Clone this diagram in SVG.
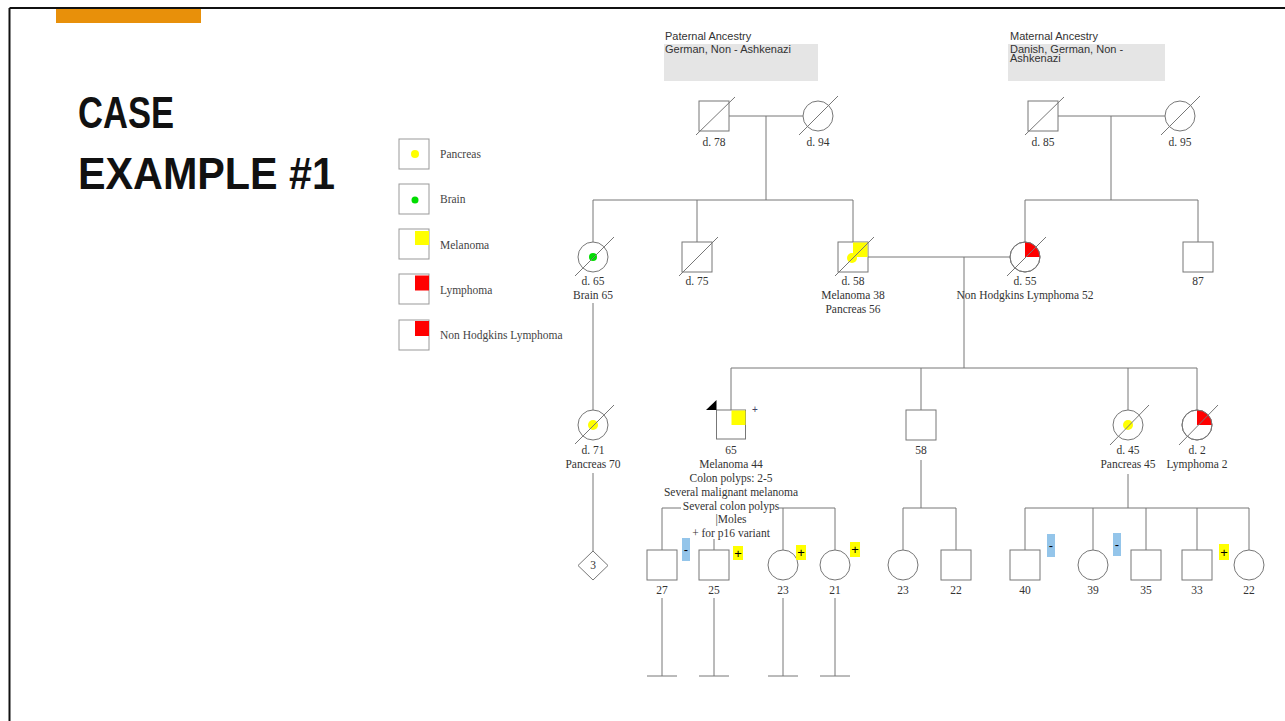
<svg xmlns="http://www.w3.org/2000/svg" width="1285" height="721" viewBox="0 0 1285 721">
<style>
.ln{stroke:#777;stroke-width:1;fill:none}
.nd{fill:#fff;stroke:#777;stroke-width:1}
.lgb{fill:#fff;stroke:#999;stroke-width:1}
.lb{font-family:"Liberation Serif",serif;font-size:11.5px;fill:#333;text-anchor:middle}
.lg{font-family:"Liberation Serif",serif;font-size:11.5px;fill:#444}
.anc{font-family:"Liberation Sans",sans-serif;font-size:11px;fill:#333}
.ttl{font-family:"Liberation Sans",sans-serif;font-weight:bold;font-size:45px;fill:#111}
.yl{fill:#ffff00}
.rd{fill:#ff0000}
.gn{fill:#00dd00}
.bm{fill:#94c5ea}
.ym{fill:#ffff00}
.mk{font-family:"Liberation Sans",sans-serif;font-size:13px;fill:#000;text-anchor:middle}
</style>
<rect x="0" y="0" width="1285" height="721" fill="#fff"/>
<g id="frame">
<line x1="9.5" y1="8" x2="1285" y2="8" stroke="#111" stroke-width="2"/>
<line x1="9.5" y1="8" x2="9.5" y2="721" stroke="#111" stroke-width="2"/>
<rect x="56" y="9" width="145" height="14" fill="#e8900a"/>
</g>
<g id="title">
<text class="ttl" x="78" y="128" textLength="96" lengthAdjust="spacingAndGlyphs">CASE</text>
<text class="ttl" x="78" y="189" textLength="257" lengthAdjust="spacingAndGlyphs">EXAMPLE #1</text>
</g>
<g id="legend">
<rect class="lgb" x="399" y="139" width="30" height="30"/><circle class="yl" cx="415" cy="154" r="4"/>
<text class="lg" x="440" y="158">Pancreas</text>
<rect class="lgb" x="399" y="184" width="30" height="30"/><circle class="gn" cx="415" cy="200" r="3.5"/>
<text class="lg" x="440" y="203">Brain</text>
<rect class="lgb" x="399" y="229" width="30" height="30"/><rect class="yl" x="415" y="231" width="14" height="14"/>
<text class="lg" x="440" y="249">Melanoma</text>
<rect class="lgb" x="399" y="274" width="30" height="30"/><rect class="rd" x="415" y="275.5" width="14" height="15"/>
<text class="lg" x="440" y="294">Lymphoma</text>
<rect class="lgb" x="399" y="320" width="30" height="30"/><rect class="rd" x="415" y="321" width="14" height="15"/>
<text class="lg" x="440" y="339">Non Hodgkins Lymphoma</text>
</g>
<g id="ancestry">
<rect x="664" y="44" width="154" height="37" fill="#e5e5e5"/>
<text class="anc" x="665" y="40">Paternal Ancestry</text>
<text class="anc" x="665" y="53">German, Non - Ashkenazi</text>
<rect x="1008" y="44" width="157" height="37" fill="#e5e5e5"/>
<text class="anc" x="1010" y="40">Maternal Ancestry</text>
<text class="anc" x="1010" y="53">Danish, German, Non -</text>
<text class="anc" x="1010" y="62">Ashkenazi</text>
</g>
<g id="connectors">
<path class="ln" d="M729 116H803M766 116V200M593 200H853M593 200V242M697 200V242M853 200V242"/>
<path class="ln" d="M1058 116H1165M1111 116V200M1025 200H1198M1025 200V242M1198 200V242"/>
<path class="ln" d="M868 257H1010M964 257V368M731 368H1197M731 368V410M921 368V410M1128 368V410M1197 368V410"/>
<path class="ln" d="M593 303V410M593 473V551"/>
<path class="ln" d="M662 508H681M779 508H835M662 508V550M714 539V550M783 508V550M835 508V550"/>
<path class="ln" d="M921 460V508M903 508H956M903 508V550M956 508V550"/>
<path class="ln" d="M1128 474V508M1025 508H1249M1025 508V550M1093 508V550M1146 508V550M1197 508V550M1249 508V550"/>
<path class="ln" d="M662 598V676M647 676H677M714 598V676M699 676H729M783 598V676M768 676H798M835 598V676M820 676H850"/>
</g>
<g id="pgf"><rect class="nd" x="699" y="101" width="30" height="30"/><line class="ln" x1="696" y1="135" x2="735" y2="97"/><text class="lb" x="714" y="146">d. 78</text></g>
<g id="pgm"><circle class="nd" cx="818" cy="116" r="15"/><line class="ln" x1="799" y1="135" x2="838" y2="96"/><text class="lb" x="818" y="146">d. 94</text></g>
<g id="mgf"><rect class="nd" x="1028" y="101" width="30" height="30"/><line class="ln" x1="1025" y1="135" x2="1064" y2="97"/><text class="lb" x="1043" y="146">d. 85</text></g>
<g id="mgm"><circle class="nd" cx="1180" cy="116" r="15"/><line class="ln" x1="1161" y1="135" x2="1200" y2="96"/><text class="lb" x="1180" y="146">d. 95</text></g>
<g id="aunt65"><circle class="nd" cx="593" cy="257" r="15"/><circle class="gn" cx="593" cy="257" r="4"/><line class="ln" x1="575" y1="276" x2="614" y2="237"/><text class="lb" x="593" y="285">d. 65</text><text class="lb" x="593" y="299">Brain 65</text></g>
<g id="uncle75"><rect class="nd" x="682" y="242" width="30" height="30"/><line class="ln" x1="679" y1="276" x2="718" y2="237"/><text class="lb" x="697" y="285">d. 75</text></g>
<g id="father"><rect class="nd" x="838" y="242" width="30" height="30"/><rect class="yl" x="853" y="242.5" width="14.5" height="14.5"/><circle class="yl" cx="852" cy="258" r="5"/><line class="ln" x1="835" y1="276" x2="874" y2="237"/><text class="lb" x="853" y="285">d. 58</text><text class="lb" x="853" y="299">Melanoma 38</text><text class="lb" x="853" y="313">Pancreas 56</text></g>
<g id="mother"><circle class="nd" cx="1025" cy="257" r="15"/><path class="rd" d="M1025 257V242A15 15 0 0 1 1040 257Z"/><circle cx="1025" cy="257" r="15" fill="none" stroke="#777"/><line class="ln" x1="1007" y1="276" x2="1046" y2="237"/><text class="lb" x="1025" y="285">d. 55</text><text class="lb" x="1025" y="299">Non Hodgkins Lymphoma 52</text></g>
<g id="uncle87"><rect class="nd" x="1183" y="242" width="30" height="30"/><text class="lb" x="1198" y="285">87</text></g>
<g id="cousin71"><circle class="nd" cx="593" cy="425" r="15"/><circle class="yl" cx="593" cy="425" r="5"/><line class="ln" x1="575" y1="444" x2="614" y2="405"/><text class="lb" x="593" y="454">d. 71</text><text class="lb" x="593" y="468">Pancreas 70</text></g>
<g id="proband"><rect class="nd" x="716.5" y="410" width="29" height="29"/><rect class="yl" x="731.5" y="410.5" width="14" height="14.5"/><polygon points="706,410 716.5,410 716.5,400" fill="#000"/><text x="755" y="413" font-family="Liberation Sans,sans-serif" font-size="10" fill="#446" text-anchor="middle">+</text>
<text class="lb" x="731" y="454">65</text><text class="lb" x="731" y="468">Melanoma 44</text><text class="lb" x="731" y="482">Colon polyps: 2-5</text><text class="lb" x="731" y="496">Several malignant melanoma</text><text class="lb" x="731" y="510">Several colon polyps</text><text class="lb" x="731" y="523">|Moles</text><text class="lb" x="731" y="537">+ for p16 variant</text></g>
<g id="sib58"><rect class="nd" x="906" y="410" width="30" height="30"/><text class="lb" x="921" y="454">58</text></g>
<g id="aunt45"><circle class="nd" cx="1128" cy="425" r="15"/><circle class="yl" cx="1128" cy="425" r="5"/><line class="ln" x1="1110" y1="445" x2="1149" y2="405"/><text class="lb" x="1128" y="454">d. 45</text><text class="lb" x="1128" y="468">Pancreas 45</text></g>
<g id="aunt2"><circle class="nd" cx="1197" cy="425" r="15"/><path class="rd" d="M1197 425V410A15 15 0 0 1 1212 425Z"/><circle cx="1197" cy="425" r="15" fill="none" stroke="#777"/><line class="ln" x1="1179" y1="445" x2="1218" y2="405"/><text class="lb" x="1197" y="454">d. 2</text><text class="lb" x="1197" y="468">Lymphoma 2</text></g>
<g id="diamond3"><polygon class="nd" points="593,551 608,565.5 593,580 578,565.5"/><text class="lb" x="593" y="569" font-size="10">3</text></g>
<g id="c27"><rect class="nd" x="647" y="550" width="30" height="30"/><text class="lb" x="662" y="594">27</text><rect class="bm" x="682" y="538" width="8" height="23"/><text class="mk" x="686" y="554">-</text></g>
<g id="c25"><rect class="nd" x="699" y="550" width="30" height="30"/><text class="lb" x="714" y="594">25</text><rect class="ym" x="733" y="546" width="10" height="14"/><text class="mk" x="738" y="558">+</text></g>
<g id="c23a"><circle class="nd" cx="783" cy="565" r="15"/><text class="lb" x="783" y="594">23</text><rect class="ym" x="796" y="545" width="10" height="15"/><text class="mk" x="801" y="557">+</text></g>
<g id="c21"><circle class="nd" cx="835" cy="565" r="15"/><text class="lb" x="835" y="594">21</text><rect class="ym" x="850" y="542" width="10" height="15"/><text class="mk" x="855" y="554">+</text></g>
<g id="c23b"><circle class="nd" cx="903" cy="565" r="15"/><text class="lb" x="903" y="594">23</text></g>
<g id="c22a"><rect class="nd" x="941" y="550" width="30" height="30"/><text class="lb" x="956" y="594">22</text></g>
<g id="c40"><rect class="nd" x="1010" y="550" width="30" height="30"/><text class="lb" x="1025" y="594">40</text><rect class="bm" x="1047" y="534" width="8" height="23"/><text class="mk" x="1051" y="550">-</text></g>
<g id="c39"><circle class="nd" cx="1093" cy="565" r="15"/><text class="lb" x="1093" y="594">39</text><rect class="bm" x="1113" y="533" width="8" height="23"/><text class="mk" x="1117" y="549">-</text></g>
<g id="c35"><rect class="nd" x="1131" y="550" width="30" height="30"/><text class="lb" x="1146" y="594">35</text></g>
<g id="c33"><rect class="nd" x="1182" y="550" width="30" height="30"/><text class="lb" x="1197" y="594">33</text><rect class="ym" x="1219" y="544" width="10" height="16"/><text class="mk" x="1224" y="557">+</text></g>
<g id="c22b"><circle class="nd" cx="1249" cy="565" r="15"/><text class="lb" x="1249" y="594">22</text></g>
</svg>
